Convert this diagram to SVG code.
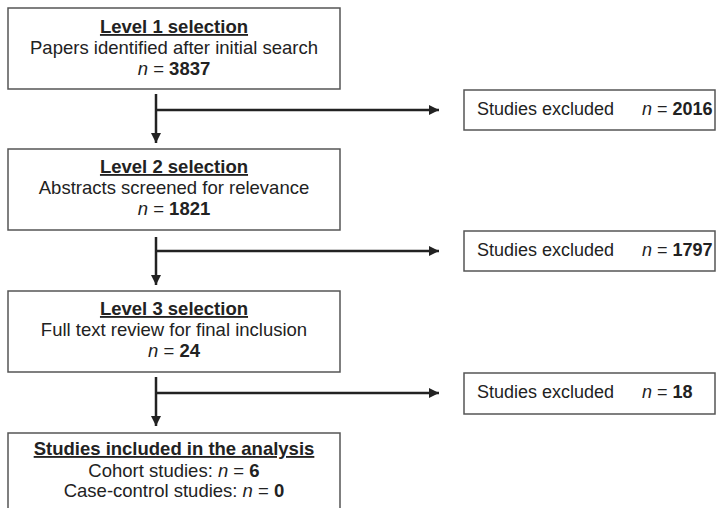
<svg xmlns="http://www.w3.org/2000/svg" width="716" height="508" viewBox="0 0 716 508">
<defs>
<style>
.box{fill:#fff;stroke:#555;stroke-width:1.5}
.t{font-family:"Liberation Sans",Arial,sans-serif;font-size:18.5px;fill:#222;text-anchor:middle}
.h{font-weight:bold;text-decoration:underline}
.s{font-family:"Liberation Sans",Arial,sans-serif;font-size:18px;fill:#222}
.b{font-weight:bold;font-style:normal}
.i{font-style:italic}
.ln{stroke:#222;stroke-width:2.5;fill:none}
</style>
<marker id="ah" viewBox="0 0 10 10" refX="10" refY="5" markerWidth="10" markerHeight="10" markerUnits="userSpaceOnUse" orient="auto">
<path d="M0,0 L10,5 L0,10 z" fill="#222"/>
</marker>
</defs>
<rect width="716" height="508" fill="#fff"/>
<g id="n1">
<rect class="box" x="8" y="8" width="332" height="81"/>
<text class="t h" x="174" y="33">Level 1 selection</text>
<text class="t" x="174" y="54">Papers identified after initial search</text>
<text class="t" x="174" y="75"><tspan class="i">n</tspan> = <tspan class="b">3837</tspan></text>
</g>
<g id="n2">
<rect class="box" x="8" y="149" width="332" height="81"/>
<text class="t h" x="174" y="173">Level 2 selection</text>
<text class="t" x="174" y="194">Abstracts screened for relevance</text>
<text class="t" x="174" y="215"><tspan class="i">n</tspan> = <tspan class="b">1821</tspan></text>
</g>
<g id="n3">
<rect class="box" x="8" y="291" width="332" height="81"/>
<text class="t h" x="174" y="315">Level 3 selection</text>
<text class="t" x="174" y="336">Full text review for final inclusion</text>
<text class="t" x="174" y="357"><tspan class="i">n</tspan> = <tspan class="b">24</tspan></text>
</g>
<g id="n4">
<rect class="box" x="8" y="433" width="332" height="85"/>
<text class="t h" x="174" y="455">Studies included in the analysis</text>
<text class="t" x="174" y="477">Cohort studies: <tspan class="i">n</tspan> = <tspan class="b">6</tspan></text>
<text class="t" x="174" y="497">Case-control studies: <tspan class="i">n</tspan> = <tspan class="b">0</tspan></text>
</g>
<g id="e1">
<rect class="box" x="464" y="90" width="251" height="40"/>
<text class="s" x="477" y="115">Studies excluded</text>
<text class="s" x="642" y="115"><tspan class="i">n</tspan> = <tspan class="b">2016</tspan></text>
</g>
<g id="e2">
<rect class="box" x="464" y="231" width="251" height="40"/>
<text class="s" x="477" y="256">Studies excluded</text>
<text class="s" x="642" y="256"><tspan class="i">n</tspan> = <tspan class="b">1797</tspan></text>
</g>
<g id="e3">
<rect class="box" x="464" y="373" width="251" height="41"/>
<text class="s" x="477" y="398">Studies excluded</text>
<text class="s" x="642" y="398"><tspan class="i">n</tspan> = <tspan class="b">18</tspan></text>
</g>
<g id="connectors">
<line class="ln" x1="156" y1="94" x2="156" y2="143" marker-end="url(#ah)"/>
<line class="ln" x1="156" y1="110" x2="439" y2="110" marker-end="url(#ah)"/>
<line class="ln" x1="156" y1="237" x2="156" y2="285" marker-end="url(#ah)"/>
<line class="ln" x1="156" y1="251" x2="439" y2="251" marker-end="url(#ah)"/>
<line class="ln" x1="156" y1="377" x2="156" y2="426" marker-end="url(#ah)"/>
<line class="ln" x1="156" y1="393" x2="439" y2="393" marker-end="url(#ah)"/>
</g>
</svg>
